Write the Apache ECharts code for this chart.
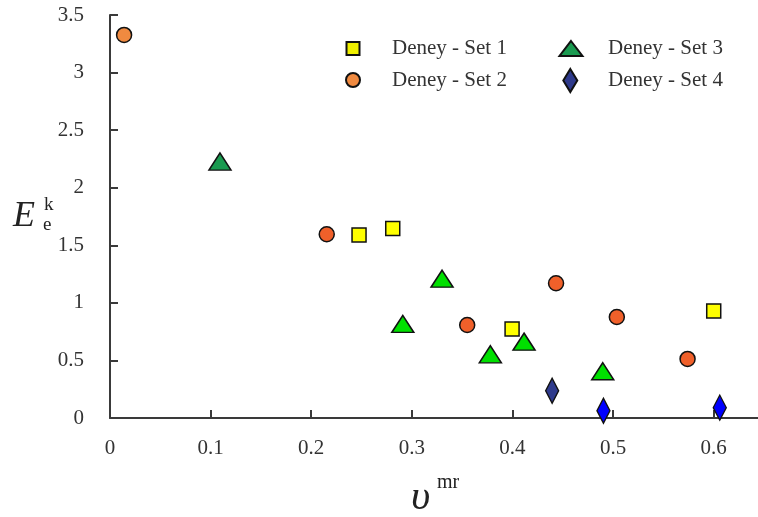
<!DOCTYPE html>
<html>
<head>
<meta charset="utf-8">
<script src="https://cdn.jsdelivr.net/npm/echarts@6/dist/echarts.min.js"></script>
<style>
  html, body { margin: 0; padding: 0; background: #fff; }
  #chart-ctn { width: 758px; height: 517px; }
</style>
</head>
<body>
<div id="chart-ctn"></div>
<script>
// data: [x, y, fill]
var set1 = [[0.2475, 1.59, '#ffff00'], [0.281, 1.645, '#ffff00'], [0.3996, 0.773, '#ffff00'], [0.600, 0.93, '#ffff00']];
var set2 = [[0.014, 3.327, '#f08a40'], [0.2154, 1.596, '#f0602a'], [0.355, 0.808, '#f0602a'],
            [0.4433, 1.17, '#f0602a'], [0.5037, 0.877, '#f0602a'], [0.574, 0.513, '#f0602a']];
var set3 = [[0.1093, 2.227, '#1a9a50'], [0.330, 1.21, '#00e000'], [0.291, 0.817, '#00e000'],
            [0.378, 0.553, '#00e000'], [0.4115, 0.663, '#00e000'], [0.4897, 0.406, '#00e000']];
var set4 = [[0.4394, 0.237, '#2e3a8c'], [0.4904, 0.063, '#0000ff'], [0.606, 0.09, '#0000ff']];

var names = ['Deney - Set 1', 'Deney - Set 2', 'Deney - Set 3', 'Deney - Set 4'];

var serif = '"Liberation Serif", "DejaVu Serif", serif';
var axisColor = '#3a3a3a';

function pts(arr) {
  return arr.map(function (p) {
    return { value: [p[0], p[1]], itemStyle: { color: p[2] } };
  });
}

function legendAt(name, left, top, w, h, pad) {
  return {
    data: [name], left: left, top: top, padding: 0,
    itemWidth: w, itemHeight: h, selectedMode: false,
    textStyle: { fontFamily: serif, fontSize: 21, color: '#333', lineHeight: 24, padding: [0, 0, 0, pad] }
  };
}

var myChart = echarts.init(document.getElementById('chart-ctn'));
var option = {
  animation: false,
  backgroundColor: '#fff',
  grid: { left: 110, top: 15, right: 0, bottom: 99 },
  legend: [
    legendAt(names[0], 345.5, 36.5, 13, 13, 27.5),
    legendAt(names[1], 345, 68, 14, 14, 27),
    legendAt(names[2], 558.5, 36.5, 23, 15, 20.5),
    legendAt(names[3], 562.3, 68, 14, 23, 25.7)
  ],
  xAxis: {
    type: 'value', min: 0, max: 0.644, interval: 0.1,
    splitLine: { show: false },
    axisLine: { lineStyle: { color: axisColor, width: 2 } },
    axisTick: { inside: true, length: 8, lineStyle: { color: axisColor, width: 2 } },
    axisLabel: { showMaxLabel: false, margin: 20, fontFamily: serif, fontSize: 21, color: '#333' }
  },
  yAxis: {
    type: 'value', min: 0, max: 3.5, interval: 0.5,
    splitLine: { show: false },
    axisLine: { show: true, lineStyle: { color: axisColor, width: 2 } },
    axisTick: { show: true, inside: true, length: 8, lineStyle: { color: axisColor, width: 2 } },
    axisLabel: { margin: 26, fontFamily: serif, fontSize: 21, color: '#333' }
  },
  graphic: [
    { type: 'text', left: 13, top: 199, style: { text: 'E', font: 'italic 36px ' + serif, fill: '#222' } },
    { type: 'text', left: 44, top: 196, style: { text: 'k', font: '19px ' + serif, fill: '#222' } },
    { type: 'text', left: 43, top: 216, style: { text: 'e', font: '19px ' + serif, fill: '#222' } },
    { type: 'text', left: 411, top: 477, style: { text: 'υ', font: 'italic 42px ' + serif, fill: '#222' } },
    { type: 'text', left: 437, top: 473, style: { text: 'mr', font: '20px ' + serif, fill: '#222' } }
  ],
  series: [
    { name: names[0], type: 'scatter', symbol: 'rect', symbolSize: 14, data: pts(set1),
      itemStyle: { color: '#f0f000', borderColor: '#111', borderWidth: 1.5, opacity: 1 } },
    { name: names[1], type: 'scatter', symbol: 'circle', symbolSize: 15, data: pts(set2),
      itemStyle: { color: '#f08a40', borderColor: '#111', borderWidth: 1.5, opacity: 1 } },
    { name: names[2], type: 'scatter', symbol: 'triangle', symbolSize: [22, 17], data: pts(set3),
      itemStyle: { color: '#1a9a50', borderColor: '#111', borderWidth: 1.5, opacity: 1 } },
    { name: names[3], type: 'scatter', symbol: 'diamond', symbolSize: [13, 25], data: pts(set4),
      itemStyle: { color: '#2e3a8c', borderColor: '#111', borderWidth: 1.5, opacity: 1 } }
  ]
};
myChart.setOption(option);
</script>
</body>
</html>
